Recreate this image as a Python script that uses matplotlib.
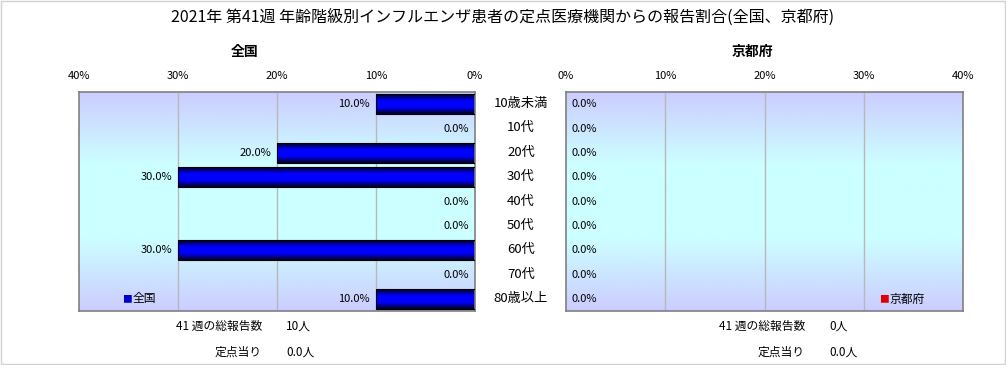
import matplotlib
matplotlib.use('Agg')
import matplotlib.pyplot as plt
from matplotlib.colors import LinearSegmentedColormap
import numpy as np

plt.rcParams['font.family'] = ['Noto Sans CJK JP', 'DejaVu Sans']

# data
ages = ['10歳未満', '10代', '20代', '30代', '40代', '50代', '60代', '70代', '80歳以上']
zenkoku = [10.0, 0.0, 20.0, 30.0, 0.0, 0.0, 30.0, 0.0, 10.0]
kyoto = [0.0, 0.0, 0.0, 0.0, 0.0, 0.0, 0.0, 0.0, 0.0]
ticks = [0, 10, 20, 30, 40]
total_zenkoku = '10人'
per_zenkoku = '0.0人'
total_kyoto = '0人'
per_kyoto = '0.0人'

W, H = 1006, 365
fig = plt.figure(figsize=(W / 100, H / 100), dpi=100)
fig.patch.set_facecolor('white')

def box(x0, y0, x1, y1):
    return [x0 / W, 1 - y1 / H, (x1 - x0) / W, (y1 - y0) / H]

axL = fig.add_axes(box(79, 92, 475, 311))
axR = fig.add_axes(box(566, 92, 963, 311))

bg = LinearSegmentedColormap.from_list('bg', ['#ccccff', '#ccffff', '#ccffff', '#ccccff'])
bar_cm = LinearSegmentedColormap.from_list('bar', ['#000020', '#0000ff', '#0000ff', '#000020'])
y = np.arange(len(ages))

for ax, vals, left in ((axL, zenkoku, True), (axR, kyoto, False)):
    ax.imshow(np.linspace(0, 1, 256).reshape(-1, 1), cmap=bg, aspect='auto',
              extent=[0, 1, 0, 1], transform=ax.transAxes, zorder=0)
    ax.set_xticks(ticks)
    ax.set_xticklabels([f'{t}%' for t in ticks], fontsize=8)
    ax.xaxis.tick_top()
    ax.tick_params(axis='x', length=0, pad=8)
    ax.set_yticks([])
    for t in ticks[1:-1]:
        ax.axvline(t, color='#b8b8b8', lw=1, zorder=1)
    for s in ax.spines.values():
        s.set_color('#808080')
        s.set_linewidth(1.2)
    bars = ax.barh(y, vals, height=0.8, color='#0000ff', edgecolor='black', lw=0.8, zorder=3)
    for b in bars:
        if b.get_width() > 0:
            x0, y0 = b.get_x(), b.get_y()
            im = ax.imshow(np.linspace(0, 1, 64).reshape(-1, 1), cmap=bar_cm, aspect='auto',
                           extent=[x0, x0 + b.get_width(), y0 + b.get_height(), y0], zorder=2)
            im.set_clip_path(b)
            b.set_facecolor('none')
        else:
            b.set_linewidth(0)
    for yi, v in zip(y, vals):
        if left:
            ax.text(v + 0.6, yi, f'{v:.1f}%', ha='right', va='center', fontsize=8, zorder=4)
        else:
            ax.text(0.6, yi, f'{v:.1f}%', ha='left', va='center', fontsize=8, zorder=4)
    ax.set_xlim((40, 0) if left else (0, 40))
    ax.set_ylim(len(ages) - 0.5, -0.5)

axL.text(0.12, 0.055, '■', color='#0000cc', fontsize=7, transform=axL.transAxes, ha='center', va='center')
axL.text(0.135, 0.055, '全国', fontsize=8.5, transform=axL.transAxes, ha='left', va='center')
axR.text(0.8, 0.055, '■', color='#dd0000', fontsize=7, transform=axR.transAxes, ha='center', va='center')
axR.text(0.815, 0.055, '京都府', fontsize=8.5, transform=axR.transAxes, ha='left', va='center')

for i, a in enumerate(ages):
    fig.text(521 / W, 1 - (103.5 + i * 24.4) / H, a, ha='center', va='center', fontsize=9.5)

fig.text(0.5, 1 - 17 / H, '2021年 第41週 年齢階級別インフルエンザ患者の定点医療機関からの報告割合(全国、京都府)',
         ha='center', va='center', fontsize=11.5)
fig.text(245 / W, 1 - 52 / H, '全国', ha='center', va='center', fontsize=10, fontweight='bold')
fig.text(752 / W, 1 - 52 / H, '京都府', ha='center', va='center', fontsize=10, fontweight='bold')

for xr, xv, tot, per in ((262, 286, total_zenkoku, per_zenkoku), (805, 829, total_kyoto, per_kyoto)):
    fig.text(xr / W, 1 - 326 / H, '41 週の総報告数', ha='right', va='center', fontsize=8.5)
    fig.text(xv / W, 1 - 326 / H, tot, ha='left', va='center', fontsize=8.5)
    fig.text(xr / W, 1 - 352 / H, '定点当り', ha='right', va='center', fontsize=8.5)
    fig.text(xv / W, 1 - 352 / H, per, ha='left', va='center', fontsize=8.5)

fig.add_artist(plt.Rectangle((0.001, 0.002), 0.998, 0.996, transform=fig.transFigure,
                             fill=False, edgecolor='#d0d0d0', lw=1))

fig.savefig('out.png', dpi=100)
